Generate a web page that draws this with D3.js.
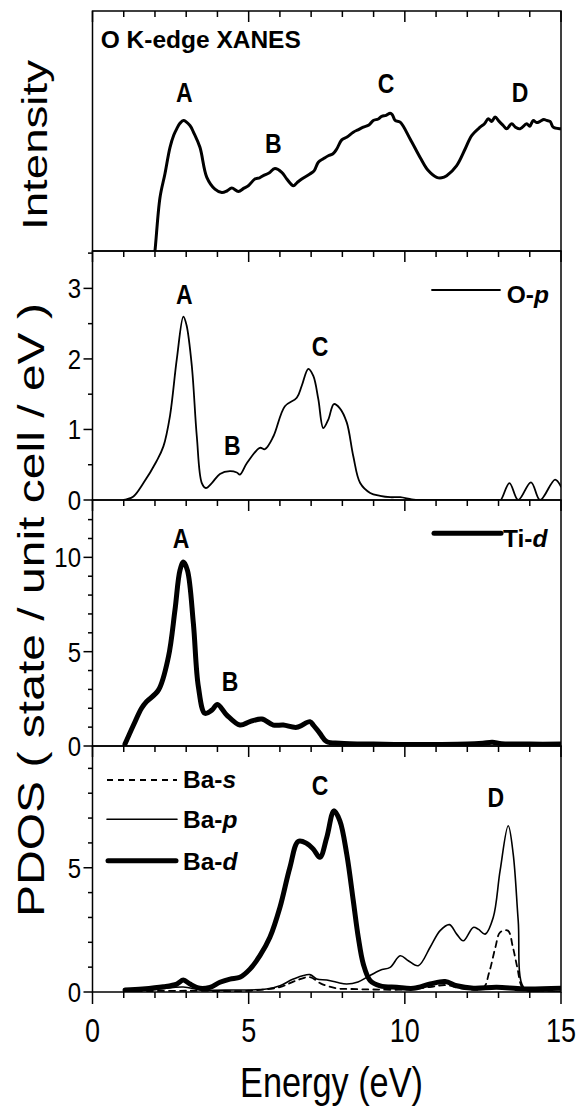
<!DOCTYPE html>
<html>
<head>
<meta charset="utf-8">
<script src="https://cdn.jsdelivr.net/npm/d3@7"></script>
<style>
  html, body { margin: 0; padding: 0; background: #fff; }
  svg { display: block; font-family: "Liberation Sans", Arial, sans-serif; }
</style>
</head>
<body>
<svg id="chart" width="579" height="1106"></svg>
<script>
// ---------------- DATA ----------------
const energyMajorTicks = [0, 5, 10, 15];
const energyMinorTicks = [1, 2, 3, 4, 6, 7, 8, 9, 11, 12, 13, 14];

// O K-edge XANES (arbitrary intensity)
const xanesE = [1.95, 2.0, 2.16, 2.32, 2.48, 2.60, 2.70, 2.80, 2.91, 3.12, 3.25, 3.44, 3.66, 3.92, 4.14, 4.30, 4.46, 4.67, 4.85, 4.99, 5.2, 5.35, 5.47, 5.65, 5.84, 6.06, 6.22, 6.43, 6.55, 6.70, 6.96, 7.10, 7.23, 7.40, 7.55, 7.70, 7.82, 7.98, 8.15, 8.35, 8.50, 8.67, 8.85, 8.99, 9.15, 9.26, 9.40, 9.53, 9.60, 9.69, 9.85, 10.17, 10.49, 10.75, 11.02, 11.18, 11.34, 11.66, 11.93, 12.14, 12.41, 12.55, 12.67, 12.78, 12.89, 13.02, 13.15, 13.26, 13.42, 13.55, 13.69, 13.9, 14.0, 14.11, 14.22, 14.33, 14.45, 14.54, 14.65, 14.75, 14.97, 15.0];
const xanesI = [-0.05, 0.0, 0.222, 0.322, 0.431, 0.482, 0.510, 0.532, 0.544, 0.523, 0.49, 0.432, 0.307, 0.258, 0.244, 0.25, 0.262, 0.248, 0.262, 0.272, 0.300, 0.305, 0.314, 0.325, 0.344, 0.328, 0.300, 0.272, 0.285, 0.300, 0.321, 0.335, 0.370, 0.385, 0.397, 0.405, 0.425, 0.463, 0.475, 0.495, 0.505, 0.516, 0.525, 0.544, 0.550, 0.561, 0.565, 0.574, 0.568, 0.544, 0.537, 0.467, 0.390, 0.335, 0.307, 0.305, 0.314, 0.356, 0.425, 0.481, 0.516, 0.530, 0.551, 0.540, 0.558, 0.540, 0.523, 0.509, 0.530, 0.515, 0.509, 0.530, 0.520, 0.544, 0.535, 0.540, 0.548, 0.544, 0.540, 0.516, 0.509, 0.509];

// O-p PDOS
const opE = [1.0, 1.09, 1.31, 1.63, 2.05, 2.27, 2.48, 2.70, 2.91, 3.01, 3.18, 3.34, 3.50, 3.63, 3.82, 4.08, 4.40, 4.62, 4.72, 4.94, 5.36, 5.52, 5.79, 6.16, 6.54, 6.70, 6.91, 7.07, 7.23, 7.39, 7.55, 7.73, 7.92, 8.14, 8.35, 8.57, 8.89, 9.21, 9.53, 9.85, 10.22, 10.5, 13.0, 13.07, 13.35, 13.63, 14.04, 14.33, 14.81, 15.0];
const opV = [0, 0.01, 0.05, 0.24, 0.55, 0.76, 1.19, 2.0, 2.60, 2.48, 1.90, 0.90, 0.24, 0.17, 0.24, 0.37, 0.41, 0.39, 0.36, 0.52, 0.74, 0.72, 0.90, 1.33, 1.45, 1.62, 1.86, 1.76, 1.43, 1.02, 1.14, 1.36, 1.30, 1.10, 0.62, 0.24, 0.10, 0.06, 0.04, 0.04, 0.01, 0, 0, 0, 0.24, 0, 0.25, 0, 0.29, 0.19];

// Ti-d PDOS
const tidE = [1.04, 1.31, 1.57, 1.73, 2.11, 2.43, 2.64, 2.80, 2.91, 3.04, 3.23, 3.39, 3.60, 3.82, 4.0, 4.3, 4.72, 5.04, 5.42, 5.79, 6.11, 6.54, 6.96, 7.07, 7.28, 7.5, 7.92, 9.0, 10.0, 11.0, 12.0, 12.5, 12.8, 13.1, 14.0, 15.0];
const tidV = [0.1, 1.1, 2.0, 2.35, 2.96, 4.72, 7.2, 9.31, 9.75, 9.31, 6.49, 3.14, 1.73, 1.9, 2.2, 1.64, 1.11, 1.29, 1.43, 1.11, 1.11, 0.99, 1.29, 1.11, 0.67, 0.23, 0.15, 0.1, 0.08, 0.08, 0.1, 0.15, 0.2, 0.12, 0.1, 0.1];

// Ba-s, Ba-p, Ba-d PDOS
const basE = [1.04, 3.0, 5.0, 6.0, 6.5, 6.96, 7.3, 7.8, 8.3, 9.0, 10.0, 10.8, 11.3, 11.8, 12.5, 12.7, 12.9, 13.05, 13.3, 13.46, 13.6, 13.76, 14.0, 15.0];
const basV = [0.03, 0.05, 0.05, 0.2, 0.45, 0.6, 0.35, 0.15, 0.12, 0.1, 0.1, 0.2, 0.28, 0.15, 0.15, 0.79, 1.8, 2.4, 2.47, 1.8, 0.99, 0.19, 0.02, 0.02];

const bapE = [1.04, 2.0, 2.9, 3.5, 4.5, 5.57, 6.0, 6.43, 6.96, 7.18, 7.5, 7.82, 8.14, 8.5, 8.78, 9.21, 9.53, 9.85, 10.11, 10.43, 10.81, 11.13, 11.43, 11.66, 11.87, 12.19, 12.35, 12.57, 12.83, 13.05, 13.31, 13.47, 13.63, 13.8, 14.2, 15.0];
const bapV = [0.05, 0.1, 0.2, 0.08, 0.08, 0.12, 0.25, 0.52, 0.70, 0.52, 0.48, 0.39, 0.32, 0.4, 0.59, 0.88, 0.99, 1.46, 1.26, 1.06, 1.80, 2.47, 2.71, 2.33, 2.06, 2.60, 2.53, 2.33, 3.0, 4.88, 6.69, 5.55, 2.87, 0.19, 0.02, 0.02];

const badE = [1.04, 1.6, 2.27, 2.70, 2.91, 3.12, 3.44, 3.76, 4.08, 4.40, 4.72, 5.04, 5.36, 5.68, 6.0, 6.32, 6.59, 6.86, 7.07, 7.28, 7.5, 7.73, 7.92, 8.14, 8.35, 8.51, 8.67, 8.89, 9.21, 9.74, 10.28, 10.81, 11.29, 11.66, 12.2, 12.94, 13.8, 15.0];
const badV = [0.08, 0.12, 0.21, 0.32, 0.48, 0.32, 0.15, 0.19, 0.39, 0.52, 0.59, 0.92, 1.46, 2.20, 3.40, 5.01, 6.06, 5.98, 5.75, 5.42, 6.22, 7.29, 6.89, 5.55, 3.67, 2.20, 1.13, 0.46, 0.25, 0.19, 0.15, 0.32, 0.42, 0.25, 0.15, 0.19, 0.12, 0.15];

// y-axis ticks per PDOS panel
const opMajorTicks = [0, 1, 2, 3];
const opMinorTicks = [0.5, 1.5, 2.5, 3.5];
const tiMajorTicks = [0, 5, 10];
const tiMinorTicks = [1, 2, 3, 4, 6, 7, 8, 9, 11, 12];
const baMajorTicks = [0, 5];
const baMinorTicks = [1, 2, 3, 4, 6, 7, 8, 9];

// ---------------- LAYOUT ----------------
const svg = d3.select("#chart");
const X0 = 92.5, X1 = 561;
const x = d3.scaleLinear().domain([0, 15]).range([X0, X1]);

const panels = [
  { top: 11,  bottom: 251, domain: [0, 1] },
  { top: 251, bottom: 500, domain: [0, 3.53], major: opMajorTicks, minor: opMinorTicks },
  { top: 500, bottom: 746, domain: [0, 13.04], major: tiMajorTicks, minor: tiMinorTicks },
  { top: 746, bottom: 992, domain: [0, 9.9], major: baMajorTicks, minor: baMinorTicks }
];
panels.forEach(p => { p.y = d3.scaleLinear().domain(p.domain).range([p.bottom, p.top]); });

const FONT = '"Liberation Sans", Arial, sans-serif';

function stretchText(g, tx, ty, str, size, sy, anchor, weight) {
  return g.append("text")
    .attr("transform", `translate(${tx},${ty}) scale(1,${sy})`)
    .attr("text-anchor", anchor || "middle")
    .attr("font-size", size)
    .attr("font-weight", weight || "normal")
    .attr("font-family", FONT)
    .attr("fill", "#000")
    .text(str);
}

const defs = svg.append("defs");
panels.forEach((p, i) => {
  defs.append("clipPath").attr("id", "clip" + i)
    .append("rect").attr("x", X0).attr("y", p.top).attr("width", X1 - X0).attr("height", p.bottom - p.top);
});

function drawSeries(pi, E, V, width, dash) {
  const p = panels[pi];
  const data = E.map((e, i) => [e, V[i]]);
  const line = d3.line().x(d => x(d[0])).y(d => p.y(d[1])).curve(d3.curveCatmullRom.alpha(0.5));
  svg.append("path")
    .attr("clip-path", `url(#clip${pi})`)
    .attr("d", line(data))
    .attr("fill", "none")
    .attr("stroke", "#000")
    .attr("stroke-width", width)
    .attr("stroke-linejoin", "round")
    .attr("stroke-linecap", "round")
    .attr("stroke-dasharray", dash || null);
}

drawSeries(0, xanesE, xanesI, 3);
drawSeries(1, opE, opV, 1.8);
drawSeries(2, tidE, tidV, 5);
drawSeries(3, basE, basV, 1.8, "6,5");
drawSeries(3, bapE, bapV, 1.6);
drawSeries(3, badE, badV, 5);

// ---------------- FRAMES & TICKS ----------------
panels.forEach((p, i) => {
  svg.append("rect").attr("x", X0).attr("y", p.top).attr("width", X1 - X0).attr("height", p.bottom - p.top)
    .attr("fill", "none").attr("stroke", "#000").attr("stroke-width", 1.5);
  const gt = svg.append("g");
  gt.selectAll("line.maj").data(energyMajorTicks).join("line")
    .attr("x1", d => x(d)).attr("x2", d => x(d)).attr("y1", p.top).attr("y2", p.top + 11)
    .attr("stroke", "#000").attr("stroke-width", 1.5);
  gt.selectAll("line.min").data(energyMinorTicks).join("line")
    .attr("x1", d => x(d)).attr("x2", d => x(d)).attr("y1", p.top).attr("y2", p.top + 6)
    .attr("stroke", "#000").attr("stroke-width", 1.5);
  if (p.major) {
    const gy = svg.append("g");
    gy.selectAll("line.ymaj").data(p.major).join("line")
      .attr("x1", X0 - 9).attr("x2", X0).attr("y1", d => p.y(d)).attr("y2", d => p.y(d))
      .attr("stroke", "#000").attr("stroke-width", 1.5);
    gy.selectAll("line.ymin").data(p.minor).join("line")
      .attr("x1", X0 - 4.5).attr("x2", X0).attr("y1", d => p.y(d)).attr("y2", d => p.y(d))
      .attr("stroke", "#000").attr("stroke-width", 1.5);
    p.major.forEach(v => stretchText(svg, 81, p.y(v) + 10, String(v), 24, 1.17, "end"));
  }
});

// bottom x axis ticks (outward) and labels
const last = panels[3];
const gb = svg.append("g");
gb.selectAll("line.bmaj").data(energyMajorTicks).join("line")
  .attr("x1", d => x(d)).attr("x2", d => x(d)).attr("y1", last.bottom).attr("y2", last.bottom + 12)
  .attr("stroke", "#000").attr("stroke-width", 1.5);
gb.selectAll("line.bmin").data(energyMinorTicks).join("line")
  .attr("x1", d => x(d)).attr("x2", d => x(d)).attr("y1", last.bottom).attr("y2", last.bottom + 6)
  .attr("stroke", "#000").attr("stroke-width", 1.5);
energyMajorTicks.forEach(v => stretchText(svg, x(v), 1041.7, String(v), 27, 1.2, "middle"));

// axis titles
svg.append("text")
  .attr("transform", "translate(331.5,1096.7) scale(1,1.22)")
  .attr("text-anchor", "middle").attr("font-size", 34.3).attr("font-family", FONT)
  .text("Energy (eV)");
svg.append("text")
  .attr("transform", "translate(47,145) rotate(-90)")
  .attr("text-anchor", "middle").attr("font-size", 35).attr("font-family", FONT)
  .attr("textLength", 170).attr("lengthAdjust", "spacingAndGlyphs")
  .text("Intensity");
svg.append("text")
  .attr("transform", "translate(43.5,610) rotate(-90)")
  .attr("text-anchor", "middle").attr("font-size", 37).attr("font-family", FONT)
  .attr("textLength", 614).attr("lengthAdjust", "spacingAndGlyphs")
  .text("PDOS ( state / unit cell / eV )");

// panel title
svg.append("text").attr("x", 100.7).attr("y", 48).attr("font-size", 24.5).attr("font-weight", "bold")
  .attr("font-family", FONT).text("O K-edge XANES");

// peak labels
const peakLabels = [
  ["A", 184.3, 101.7], ["B", 273.3, 153.3], ["C", 386, 92.7], ["D", 520, 101.7],
  ["A", 184.3, 304], ["B", 232.3, 455], ["C", 320, 356],
  ["A", 181, 548.3], ["B", 230, 690.7],
  ["C", 320, 795], ["D", 495.7, 806.7]
];
peakLabels.forEach(([t, px, py]) => stretchText(svg, px, py, t, 23, 1.22, "middle", "bold"));

// legends
function legendEntry(x1, x2, ly, tx, ty, base, ital, width, dash) {
  svg.append("line").attr("x1", x1).attr("x2", x2).attr("y1", ly).attr("y2", ly)
    .attr("stroke", "#000").attr("stroke-width", width)
    .attr("stroke-linecap", dash ? "butt" : "round")
    .attr("stroke-dasharray", dash || null);
  const t = svg.append("text").attr("x", tx).attr("y", ty).attr("font-size", 24.5)
    .attr("font-weight", "bold").attr("font-family", FONT);
  t.append("tspan").text(base);
  t.append("tspan").attr("font-style", "italic").text(ital);
}
legendEntry(432, 500, 290, 506.7, 303.3, "O-", "p", 1.8);
legendEntry(434, 501, 533.3, 503, 546.7, "Ti-", "d", 5);
legendEntry(107, 177, 780, 183, 788.3, "Ba-", "s", 1.8, "6,5");
legendEntry(107, 177, 819.3, 183, 828.3, "Ba-", "p", 1.6);
legendEntry(108, 176, 860.7, 183, 870, "Ba-", "d", 5);
</script>
</body>
</html>
